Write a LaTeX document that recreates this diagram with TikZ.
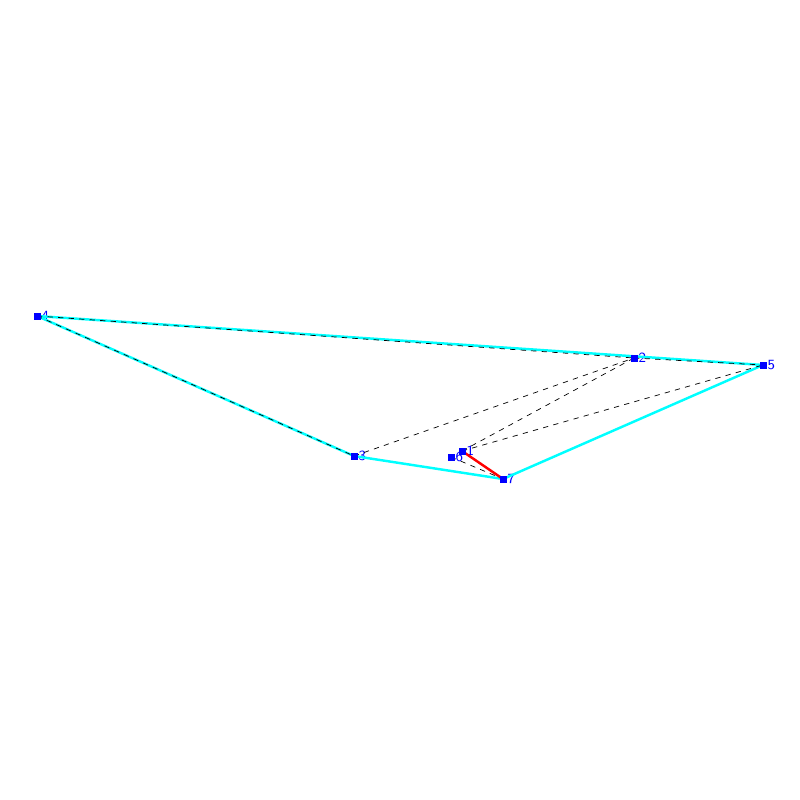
\documentclass[tikz,border=0pt]{standalone}
\usepackage{tikz}
\definecolor{hullcyan}{RGB}{0,255,255}
\definecolor{ptblue}{RGB}{0,0,255}

\begin{document}
\begin{tikzpicture}[x=0.02cm, y=-0.02cm]
                \tikzstyle{pt} = [rectangle, draw=none, fill=ptblue, minimum size=0.14cm, inner sep=0pt, label={[ptblue, font=\sffamily\footnotesize, inner sep=0.3pt]right:#1}]
                \tikzstyle{hull} = [hullcyan, line width=1.4pt]
                \tikzstyle{edge} = [black, dashed, line width=0.4pt]
                \tikzstyle{best} = [red, line width=1.4pt]

                \useasboundingbox (0,0) rectangle (800,800);

                \node (p4) [pt=4] at (37,316) {};
                \node (p2) [pt=2] at (634,358) {};
                \node (p5) [pt=5] at (763,365) {};
                \node (p3) [pt=3] at (354,456) {};
                \node (p1) [pt=1] at (462,451) {};
                \node (p6) [pt=6] at (451,457) {};
                \node (p7) [pt=7] at (503,479) {};

                \draw [hull] (p4.center) -- (p5.center);
                \draw [hull] (p5.center) -- (p7.center);
                \draw [hull] (p7.center) -- (p3.center);
                \draw [hull] (p3.center) -- (p4.center);

                \draw [edge] (p4.center) -- (p2.center);
                \draw [edge] (p2.center) -- (p5.center);
                \draw [edge] (p4.center) -- (p3.center);
                \draw [edge] (p3.center) -- (p2.center);
                \draw [edge] (p1.center) -- (p2.center);
                \draw [edge] (p1.center) -- (p5.center);
                \draw [edge] (p6.center) -- (p7.center);

                \draw [best] (p1.center) -- (p7.center);

                \foreach \p in {p4,p2,p5,p3,p1,p6,p7}
                    \fill [ptblue] (\p.center) +(-3.5,-3.5) rectangle +(3.5,3.5);
            \end{tikzpicture}
\end{document}
